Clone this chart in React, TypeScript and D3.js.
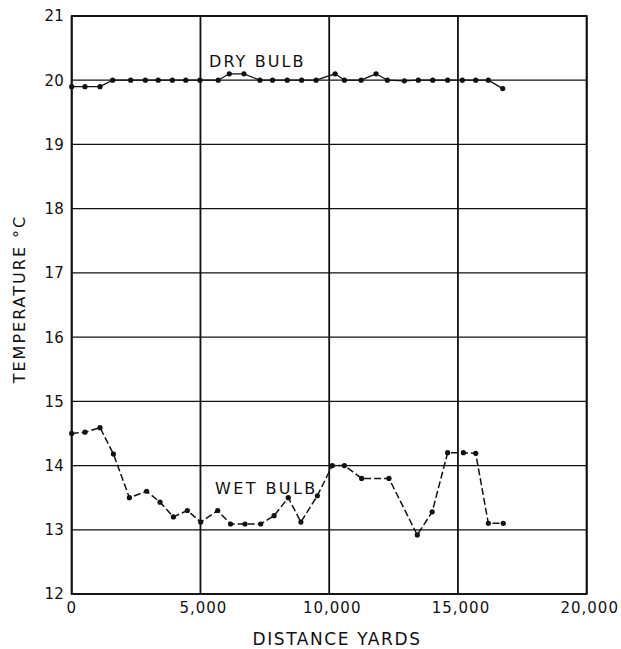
import React from "react";
import * as d3 from "d3";

const dryX = [0, 516, 1100, 1590, 2290, 2860, 3360, 3910, 4430, 4980, 5690, 6120, 6690, 7310, 7800, 8370, 8930, 9490, 10230, 10590, 11240, 11820, 12260, 12920, 13460, 14020, 14600, 15170, 15690, 16180, 16740];
const dryT = [19.9, 19.9, 19.9, 20.0, 20.0, 20.0, 20.0, 20.0, 20.0, 20.0, 20.0, 20.1, 20.1, 20.0, 20.0, 20.0, 20.0, 20.0, 20.1, 20.0, 20.0, 20.1, 20.0, 19.99, 20.0, 20.0, 20.0, 20.0, 20.0, 20.0, 19.87];

const wetX = [0, 516, 1100, 1620, 2240, 2910, 3430, 3950, 4490, 5010, 5670, 6170, 6730, 7340, 7860, 8410, 8900, 9540, 10120, 10590, 11260, 12320, 13420, 14000, 14600, 15210, 15690, 16180, 16760];
const wetT = [14.5, 14.52, 14.59, 14.18, 13.5, 13.6, 13.43, 13.2, 13.3, 13.12, 13.3, 13.09, 13.09, 13.09, 13.22, 13.5, 13.12, 13.53, 14.0, 14.0, 13.8, 13.8, 12.92, 13.28, 14.2, 14.2, 14.19, 13.1, 13.1];

const xTicks = [0, 5000, 10000, 15000, 20000];
const xTickLabels = ["0", "5,000", "10,000", "15,000", "20,000"];
const yTicks = [12, 13, 14, 15, 16, 17, 18, 19, 20, 21];
const yTickLabels = ["12", "13", "14", "15", "16", "17", "18", "19", "20", "21"];

const xTitle = "DISTANCE YARDS";
const yTitle = "TEMPERATURE °C";
const dryLabel = "DRY BULB";
const wetLabel = "WET BULB";

export default function App() {
  const W = 621, H = 649;
  const left = 71.7, right = 586.7, top = 16, bottom = 594;
  const x = d3.scaleLinear().domain([0, 20000]).range([left, right]);
  const y = d3.scaleLinear().domain([12, 21]).range([bottom, top]);
  const font = "'DejaVu Sans', sans-serif";

  const dry = dryX.map((d, i) => [d, dryT[i]] as [number, number]);
  const wet = wetX.map((d, i) => [d, wetT[i]] as [number, number]);
  const line = d3.line<[number, number]>().x(d => x(d[0])).y(d => y(d[1]));

  return (
    <svg width={W} height={H} style={{ position: "absolute", left: 0, top: 0, background: "#fff" }}>
      <rect x={0} y={0} width={W} height={H} fill="#fff" />
      {yTicks.map(t => (
        <line key={"gy" + t} x1={left} x2={right} y1={y(t)} y2={y(t)} stroke="#111" strokeWidth={1.3} />
      ))}
      {xTicks.map(t => (
        <line key={"gx" + t} x1={x(t)} x2={x(t)} y1={top} y2={bottom} stroke="#111" strokeWidth={1.8} />
      ))}
      <rect x={left} y={top} width={right - left} height={bottom - top} fill="none" stroke="#111" strokeWidth={1.8} />

      <path d={line(dry) || ""} fill="none" stroke="#111" strokeWidth={1.3} />
      {dry.map((d, i) => (
        <circle key={"dp" + i} cx={x(d[0])} cy={y(d[1])} r={2.6} fill="#111" />
      ))}
      <path d={line(wet) || ""} fill="none" stroke="#111" strokeWidth={1.5} strokeDasharray="7 3" />
      {wet.map((d, i) => (
        <circle key={"wp" + i} cx={x(d[0])} cy={y(d[1])} r={2.6} fill="#111" />
      ))}

      {yTicks.map((t, i) => (
        <text key={"yl" + t} x={left - 8} y={y(t)} dy="0.36em" textAnchor="end" fontFamily={font} fontSize={15} fill="#111">
          {yTickLabels[i]}
        </text>
      ))}
      {xTicks.map((t, i) => (
        <text key={"xl" + t} x={x(t) + (i === 0 ? 0 : 3)} y={613} textAnchor="middle" fontFamily={font} fontSize={15} fill="#111" letterSpacing={1}>
          {xTickLabels[i]}
        </text>
      ))}
      <text x={337} y={645} textAnchor="middle" fontFamily={font} fontSize={17} fill="#111" letterSpacing={1.6}>
        {xTitle}
      </text>
      <text transform={`translate(25,299) rotate(-90)`} textAnchor="middle" fontFamily={font} fontSize={16} fill="#111" letterSpacing={2}>
        {yTitle}
      </text>
      <text x={209} y={67} fontFamily={font} fontSize={16} fill="#111" letterSpacing={2.1}>
        {dryLabel}
      </text>
      <text x={215} y={494} fontFamily={font} fontSize={16} fill="#111" letterSpacing={2.4}>
        {wetLabel}
      </text>
    </svg>
  );
}
